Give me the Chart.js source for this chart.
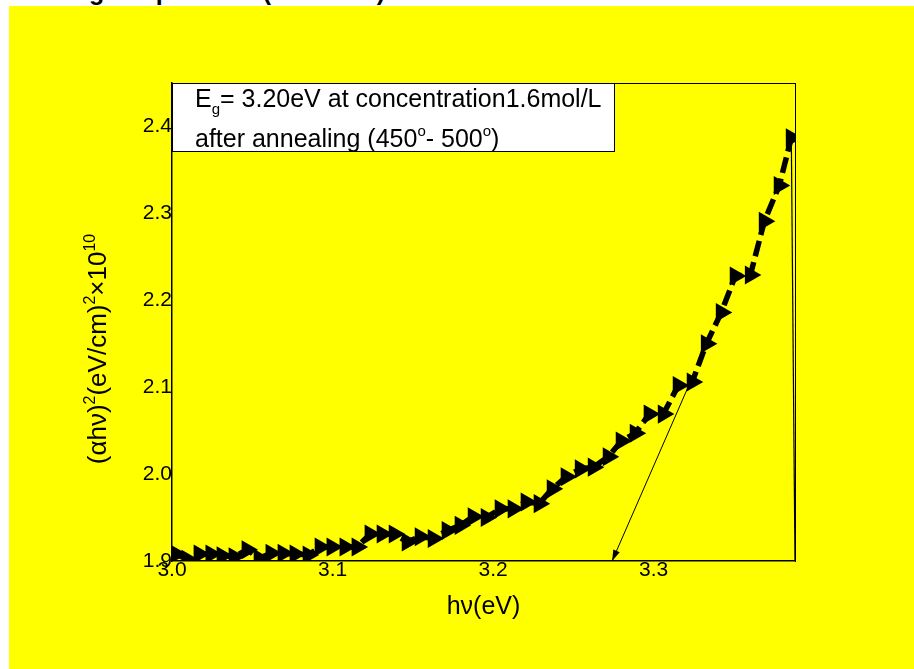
<!DOCTYPE html>
<html>
<head>
<meta charset="utf-8">
<script src="https://cdn.jsdelivr.net/npm/chart.js@4.4.0/dist/chart.umd.min.js"></script>
<style>
body{margin:0;background:#fff;width:914px;height:669px;overflow:hidden;position:relative;font-family:"Liberation Sans",Arial,sans-serif}
#titulo{position:absolute;right:529px;top:-21px;font-weight:bold;font-size:25px;line-height:24px;white-space:nowrap;color:#000}
#grafico{position:absolute;left:9px;top:6px;background:#ffff00}
</style>
</head>
<body>
<div id="titulo">Band gap after annealing temperature (450 - 500)</div>
<canvas id="grafico" width="905" height="663"></canvas>
<script>
// datos
var hv = [3.0025, 3.0094, 3.0169, 3.0243, 3.0312, 3.0387, 3.0468, 3.0543, 3.0617, 3.0692, 3.0767, 3.0848,
          3.0923, 3.0997, 3.1078, 3.1153, 3.1234, 3.1309, 3.1384, 3.1465, 3.1546, 3.1627, 3.1714, 3.1795,
          3.1876, 3.1957, 3.2044, 3.2125, 3.2206, 3.2287, 3.2368, 3.2455, 3.2543, 3.2624, 3.2717, 3.2798,
          3.2885, 3.2972, 3.3060, 3.3153, 3.3240, 3.3328, 3.3421, 3.3508, 3.3602, 3.3689, 3.3782, 3.3857];
var alphaHv = [1.908, 1.902, 1.908, 1.908, 1.906, 1.905, 1.913, 1.903, 1.909, 1.909, 1.908, 1.907,
               1.916, 1.916, 1.916, 1.916, 1.931, 1.931, 1.931, 1.922, 1.928, 1.926, 1.935, 1.941,
               1.951, 1.950, 1.960, 1.960, 1.968, 1.966, 1.983, 1.997, 2.006, 2.008, 2.020, 2.038,
               2.047, 2.069, 2.069, 2.102, 2.106, 2.150, 2.186, 2.228, 2.229, 2.291, 2.332, 2.387];
var tangenteX = [3.3215, 3.2741];
var tangenteY = [2.1005, 1.9];
var caidaX = [3.3857, 3.388];
var caidaY = [2.387, 1.9];
var ticksX = [3.0, 3.1, 3.2, 3.3];
var ticksY = [1.9, 2.0, 2.1, 2.2, 2.3, 2.4];
var FUENTE = '"Liberation Sans", Arial, sans-serif';

function puntos(xs, ys) {
    var res = [];
    for (var i = 0; i < xs.length; i++) res.push({x: xs[i], y: ys[i]});
    return res;
}

// escribe trozos de texto con sub/superindices
function trozos(ctx, partes, x, y) {
    for (var i = 0; i < partes.length; i++) {
        var p = partes[i];
        ctx.font = p[2] + 'px ' + FUENTE;
        ctx.fillText(p[0], x, y + p[1]);
        x += ctx.measureText(p[0]).width;
    }
    return x;
}
function anchoTrozos(ctx, partes) {
    var w = 0;
    for (var i = 0; i < partes.length; i++) {
        ctx.font = partes[i][2] + 'px ' + FUENTE;
        w += ctx.measureText(partes[i][0]).width;
    }
    return w;
}

var extras = {
    id: 'extras',
    afterDatasetsDraw: function (chart) {
        var ctx = chart.ctx, a = chart.chartArea;
        var sx = chart.scales.x, sy = chart.scales.y;
        ctx.save();
        // punta de flecha de la tangente
        var x0 = sx.getPixelForValue(tangenteX[0]), y0 = sy.getPixelForValue(tangenteY[0]);
        var x1 = sx.getPixelForValue(tangenteX[1]), y1 = sy.getPixelForValue(tangenteY[1]);
        var ang = Math.atan2(y1 - y0, x1 - x0);
        ctx.fillStyle = '#000';
        ctx.beginPath();
        ctx.moveTo(x1, y1);
        ctx.lineTo(x1 - 11 * Math.cos(ang) + 3.5 * Math.sin(ang), y1 - 11 * Math.sin(ang) - 3.5 * Math.cos(ang));
        ctx.lineTo(x1 - 11 * Math.cos(ang) - 3.5 * Math.sin(ang), y1 - 11 * Math.sin(ang) + 3.5 * Math.cos(ang));
        ctx.closePath();
        ctx.fill();

        // caja de texto
        ctx.fillStyle = '#fff';
        ctx.fillRect(a.left, a.top, 442, 68);
        ctx.strokeStyle = '#000';
        ctx.lineWidth = 1;
        ctx.strokeRect(a.left + 0.5, a.top + 0.5, 442, 68);
        ctx.fillStyle = '#000';
        ctx.textBaseline = 'alphabetic';
        ctx.textAlign = 'left';
        trozos(ctx, [['E', 0, 25], ['g', 7, 15], ['= 3.20eV at concentration1.6mol/L', 0, 25]], a.left + 23, a.top + 24);
        trozos(ctx, [['after annealing (450', 0, 25], ['o', -11, 15], ['- 500', 0, 25], ['o', -11, 15], [')', 0, 25]], a.left + 23, a.top + 64);

        // titulo eje y
        var partes = [['(\u03B1h\u03BD)', 0, 26], ['2', -11, 16], ['(eV/cm)', 0, 26], ['2', -11, 16], ['\u00D710', 0, 26], ['10', -11, 16]];
        ctx.translate(97, 343);
        ctx.rotate(-Math.PI / 2);
        trozos(ctx, partes, -anchoTrozos(ctx, partes) / 2, 0);
        ctx.restore();
    }
};

var ctx = document.getElementById('grafico').getContext('2d');
var grafico = new Chart(ctx, {
    type: 'scatter',
    data: {
        datasets: [{
            data: puntos(hv, alphaHv),
            showLine: true,
            borderColor: '#000',
            borderWidth: 5.5,
            borderDash: [16, 6],
            backgroundColor: '#000',
            pointStyle: 'triangle',
            rotation: 90,
            pointRadius: 11,
            pointBorderWidth: 0,
            clip: 0
        }, {
            data: puntos(tangenteX, tangenteY),
            showLine: true,
            borderColor: '#000',
            borderWidth: 1,
            pointRadius: 0,
            clip: 0
        }, {
            data: puntos(caidaX, caidaY),
            showLine: true,
            borderColor: '#000',
            borderWidth: 1.2,
            pointRadius: 0,
            clip: 0
        }]
    },
    options: {
        responsive: false,
        animation: false,
        layout: {padding: {top: 77, right: 119, left: 0, bottom: 0}},
        plugins: {legend: {display: false}, tooltip: {enabled: false}},
        scales: {
            x: {
                type: 'linear',
                min: 3.0,
                max: 3.388,
                afterFit: function (s) { s.height = 108; },
                afterBuildTicks: function (s) { s.ticks = ticksX.map(function (v) { return {value: v}; }); },
                grid: {display: false, drawTicks: false},
                border: {display: true, color: '#000', width: 1.5},
                ticks: {
                    color: '#000',
                    padding: -3,
                    maxRotation: 0,
                    font: {family: FUENTE, size: 21},
                    callback: function (v) { return v.toFixed(1); }
                },
                title: {
                    display: true,
                    text: 'h\u03BD(eV)',
                    color: '#000',
                    font: {family: FUENTE, size: 25},
                    padding: {top: 0, bottom: 47}
                }
            },
            y: {
                type: 'linear',
                min: 1.9,
                max: 2.45,
                afterFit: function (s) { s.width = 163; },
                afterBuildTicks: function (s) { s.ticks = ticksY.map(function (v) { return {value: v}; }); },
                grid: {display: false, drawTicks: false},
                border: {display: true, color: '#000', width: 1.5},
                ticks: {
                    color: '#000',
                    padding: 0,
                    font: {family: FUENTE, size: 21},
                    callback: function (v) { return v.toFixed(1); }
                }
            },
            x2: {
                type: 'linear', position: 'top', display: true,
                afterFit: function (s) { s.height = 0; },
                grid: {display: false, drawTicks: false},
                border: {display: true, color: '#000', width: 1},
                ticks: {display: false}
            },
            y2: {
                type: 'linear', position: 'right', display: true,
                afterFit: function (s) { s.width = 0; },
                grid: {display: false, drawTicks: false},
                border: {display: true, color: '#000', width: 1},
                ticks: {display: false}
            }
        }
    },
    plugins: [extras]
});
</script>
</body>
</html>
